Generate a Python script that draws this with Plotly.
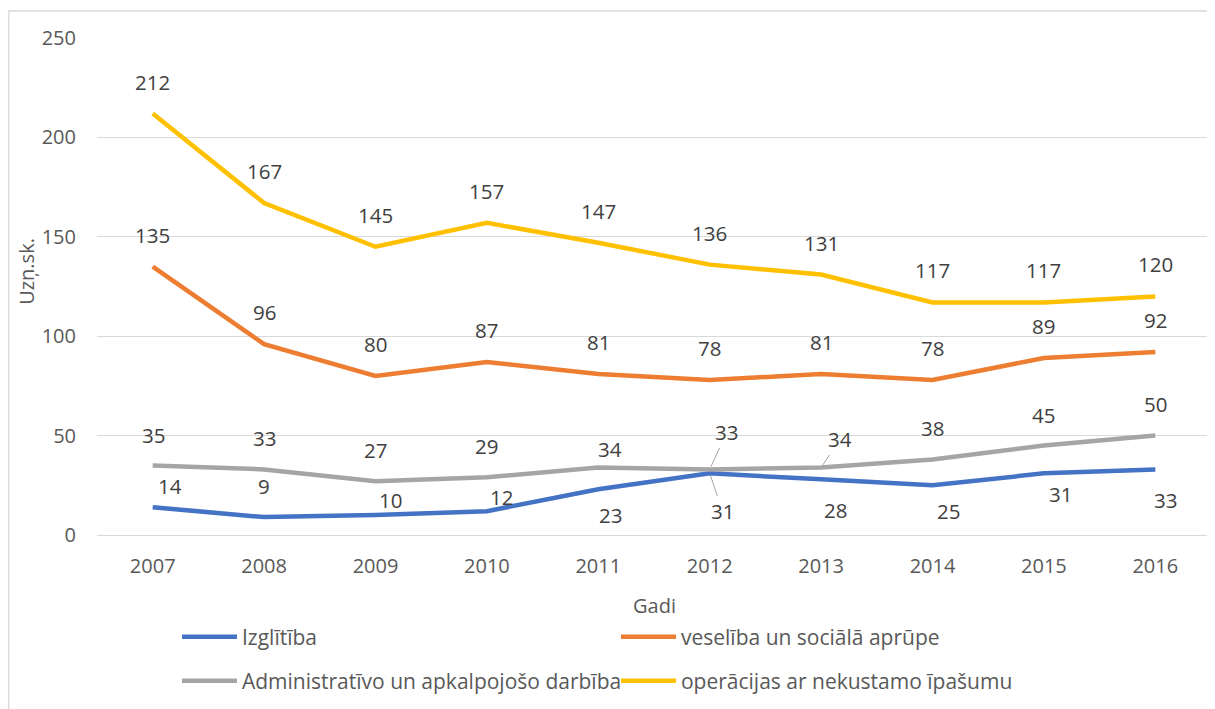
import plotly.graph_objects as go

years = ["2007", "2008", "2009", "2010", "2011", "2012", "2013", "2014", "2015", "2016"]
izglitiba = [14, 9, 10, 12, 23, 31, 28, 25, 31, 33]
veseliba = [135, 96, 80, 87, 81, 78, 81, 78, 89, 92]
administrativo = [35, 33, 27, 29, 34, 33, 34, 38, 45, 50]
operacijas = [212, 167, 145, 157, 147, 136, 131, 117, 117, 120]

names = ["Izglītība", "veselība un sociālā aprūpe",
         "Administratīvo un apkalpojošo darbība", "operācijas ar nekustamo īpašumu"]
colors = ["#4472C4", "#ED7D31", "#A5A5A5", "#FFC000"]
series = [izglitiba, veseliba, administrativo, operacijas]
legend_ids = ["legend", "legend", "legend2", "legend2"]

# label offsets in px (dx right, dy up) and callout flags
lbl_dx = [
    [17, 0, 15, 15, 12, 13, 14, 16, 17, 10],
    [0] * 10,
    [1, 0, 0, 0, 12, 17, 19, 0, 0, 0],
    [0] * 10,
]
lbl_dy = [
    [21, 31, 15, 14, -26, -38, -31, -26, -21, -31],
    [32] * 10,
    [30, 31, 31, 31, 18, 37, 28, 31, 31, 32],
    [32] * 10,
]
callout = [
    [0, 0, 0, 0, 0, 1, 0, 0, 0, 0],
    [0] * 10,
    [0, 0, 0, 0, 0, 1, 1, 0, 0, 0],
    [0] * 10,
]

FONT = "Open Sans, Lato, sans-serif"
TXT = "#595959"
LBL = "#404040"
FS = 20

fig = go.Figure()
for s, n, c, lg in zip(series, names, colors, legend_ids):
    fig.add_trace(go.Scatter(x=years, y=s, name=n, mode="lines",
                             line=dict(color=c, width=4.5), legend=lg,
                             hoverinfo="x+y"))

annotations = []
for si, s in enumerate(series):
    for i, v in enumerate(s):
        if callout[si][i]:
            annotations.append(dict(x=i, y=v, xref="x", yref="y", text=str(v),
                                    showarrow=True, arrowhead=0, arrowwidth=1,
                                    arrowcolor="#A5A5A5", standoff=3,
                                    ax=lbl_dx[si][i], ay=-lbl_dy[si][i],
                                    font=dict(family=FONT, size=20.5, color=LBL)))
        else:
            annotations.append(dict(x=i, y=v, xref="x", yref="y", text=str(v),
                                    showarrow=False, xshift=lbl_dx[si][i],
                                    yshift=lbl_dy[si][i],
                                    font=dict(family=FONT, size=20.5, color=LBL)))

# axis titles
annotations.append(dict(text="Uzņ.sk.", xref="paper", yref="paper", x=-0.0635, y=0.53,
                        textangle=-90, showarrow=False, xanchor="center", yanchor="middle",
                        font=dict(family=FONT, size=FS, color=TXT)))
annotations.append(dict(text="Gadi", xref="paper", yref="paper", x=0.5, y=-0.141,
                        showarrow=False, xanchor="center", yanchor="middle",
                        font=dict(family=FONT, size=FS, color=TXT)))

fig.update_layout(
    width=1207, height=701,
    margin=dict(l=89, r=4, t=30, b=174),
    paper_bgcolor="white", plot_bgcolor="white",
    font=dict(family=FONT, size=FS, color=TXT),
    xaxis=dict(type="category", range=[-0.5, 9.5], showgrid=False, showline=False,
               zeroline=False, ticks="", ticklabelstandoff=17,
               tickfont=dict(family=FONT, size=FS, color=TXT)),
    yaxis=dict(range=[0, 250], tickvals=[0, 50, 100, 150, 200, 250], showgrid=True,
               gridcolor="#D9D9D9", gridwidth=1.3, zeroline=True, zerolinecolor="#D9D9D9",
               zerolinewidth=1.3, showline=False, ticks="", ticklabelstandoff=20,
               tickfont=dict(family=FONT, size=FS, color=TXT)),
    legend=dict(orientation="h", x=0.0718, y=-0.2052, xanchor="left", yanchor="middle",
                entrywidth=369, entrywidthmode="pixels", itemwidth=55,
                font=dict(family=FONT, size=21, color=TXT), bgcolor="rgba(0,0,0,0)"),
    legend2=dict(orientation="h", x=0.0718, y=-0.2938, xanchor="left", yanchor="middle",
                 entrywidth=369, entrywidthmode="pixels", itemwidth=55,
                 font=dict(family=FONT, size=21, color=TXT), bgcolor="rgba(0,0,0,0)"),
    annotations=annotations,
    shapes=[dict(type="rect", xref="paper", yref="paper",
                 x0=(0.8 - 89) / 1114, x1=(1230 - 89) / 1114,
                 y0=(527 - 720) / 497, y1=(527 - 3) / 497,
                 line=dict(color="#D9D9D9", width=1.3), fillcolor="rgba(0,0,0,0)",
                 layer="above")],
)

fig.write_html("out.html")
